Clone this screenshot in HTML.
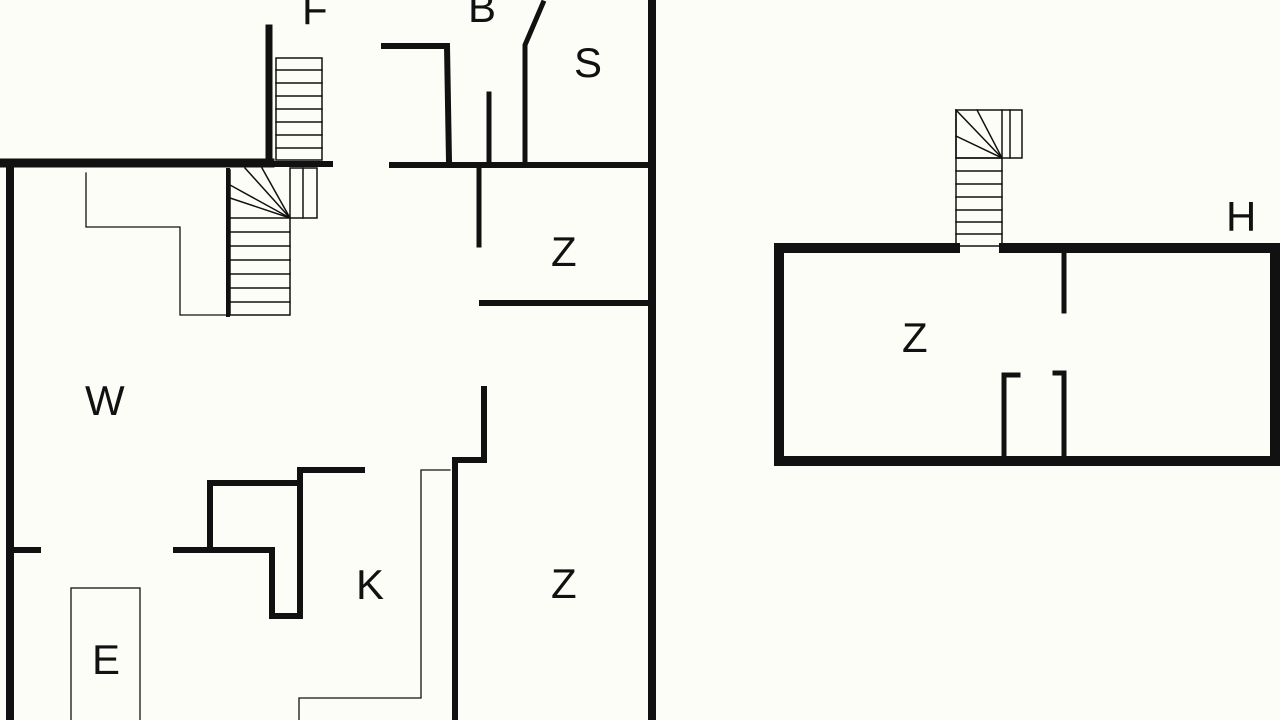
<!DOCTYPE html>
<html><head><meta charset="utf-8"><style>
html,body{margin:0;padding:0;background:#fdfdf8;}
svg{display:block}
text{font-family:"Liberation Sans",sans-serif;font-size:42px;fill:#111;}
</style></head><body>
<svg width="1280" height="720" viewBox="0 0 1280 720" xmlns="http://www.w3.org/2000/svg">
<rect width="1280" height="720" fill="#fdfdf8"/>
<g stroke="#111" fill="none" stroke-linecap="square">
<!-- thick walls -->
<line x1="10" y1="163" x2="10" y2="720" stroke-width="8"/>
<line x1="0" y1="163" x2="270" y2="163" stroke-width="9"/>
<line x1="270" y1="164" x2="330" y2="164" stroke-width="6"/>
<line x1="269" y1="28" x2="269" y2="163" stroke-width="7"/>
<line x1="652" y1="0" x2="652" y2="720" stroke-width="8"/>
<line x1="392" y1="165" x2="646" y2="165" stroke-width="6"/>
<polyline points="384,46 447,46 449,162" stroke-width="6"/>
<line x1="489" y1="94" x2="489" y2="162" stroke-width="5"/>
<polyline points="525,162 525,45 543,3" stroke-width="5"/>
<line x1="479" y1="168" x2="479" y2="245" stroke-width="5"/>
<line x1="482" y1="303" x2="646" y2="303" stroke-width="6"/>
<polyline points="484,389 484,460 455,460 455,720" stroke-width="6"/>
<polyline points="300,483 300,470 362,470" stroke-width="6"/>
<polyline points="210,548 210,483 300,483 300,616 272,616 272,550 176,550" stroke-width="6"/>
<line x1="12" y1="550" x2="38" y2="550" stroke-width="6"/>
<!-- thin lines -->
<g stroke-width="1.3">
<polyline points="86,173 86,227 180,227 180,315 228,315"/>
<polyline points="450,470 421,470 421,698 299,698 299,720"/>
<rect x="71" y="588" width="69" height="140"/>
</g>
<!-- upper stair -->
<g stroke-width="1.5">
<rect x="276" y="58" width="46" height="102"/>
<line x1="276" y1="70" x2="322" y2="70"/><line x1="276" y1="83" x2="322" y2="83"/>
<line x1="276" y1="96" x2="322" y2="96"/><line x1="276" y1="109" x2="322" y2="109"/>
<line x1="276" y1="122" x2="322" y2="122"/><line x1="276" y1="135" x2="322" y2="135"/>
<line x1="276" y1="148" x2="322" y2="148"/>
</g>
<!-- lower stair -->
<g stroke-width="1.5">
<line x1="228" y1="170" x2="228" y2="315" stroke-width="4"/>
<polyline points="230,170 230,315 290,315 290,218"/>
<rect x="290" y="168" width="27" height="50"/>
<line x1="303" y1="168" x2="303" y2="218"/>
<line x1="230" y1="218" x2="290" y2="218"/>
<line x1="230" y1="185" x2="290" y2="218"/><line x1="230" y1="198" x2="290" y2="218"/>
<line x1="245" y1="168" x2="290" y2="218"/><line x1="262" y1="168" x2="290" y2="218"/>
<line x1="230" y1="232" x2="290" y2="232"/><line x1="230" y1="246" x2="290" y2="246"/>
<line x1="230" y1="260" x2="290" y2="260"/><line x1="230" y1="274" x2="290" y2="274"/>
<line x1="230" y1="288" x2="290" y2="288"/><line x1="230" y1="302" x2="290" y2="302"/>
</g>
<!-- right building -->
<polyline points="955,248 779,248 779,461 1275,461 1275,248 1004,248" stroke-width="10"/>
<line x1="1064" y1="252" x2="1064" y2="311" stroke-width="5"/>
<polyline points="1018,375 1004,375 1004,456" stroke-width="5"/>
<polyline points="1055,373 1064,373 1064,456" stroke-width="5"/>
<g stroke-width="1.5">
<line x1="956" y1="110" x2="956" y2="252"/>
<line x1="1002" y1="110" x2="1002" y2="252"/>
<rect x="956" y="110" width="66" height="48"/>
<line x1="1010" y1="110" x2="1010" y2="158"/>
<line x1="956" y1="158" x2="1002" y2="158"/>
<line x1="956" y1="110" x2="1002" y2="158"/><line x1="977" y1="110" x2="1002" y2="158"/>
<line x1="956" y1="136" x2="1002" y2="158"/>
<line x1="956" y1="171" x2="1002" y2="171"/><line x1="956" y1="184" x2="1002" y2="184"/>
<line x1="956" y1="197" x2="1002" y2="197"/><line x1="956" y1="210" x2="1002" y2="210"/>
<line x1="956" y1="222" x2="1002" y2="222"/><line x1="956" y1="234" x2="1002" y2="234"/>
<line x1="956" y1="246" x2="1002" y2="246"/>
</g>
</g>
<text x="302" y="24">F</text>
<text x="468" y="22">B</text>
<text x="574" y="77">S</text>
<text x="551" y="266">Z</text>
<text x="85" y="415">W</text>
<text x="356" y="599">K</text>
<text x="551" y="598">Z</text>
<text x="92" y="674">E</text>
<text x="902" y="352">Z</text>
<text x="1226" y="231">H</text>
</svg>
</body></html>
